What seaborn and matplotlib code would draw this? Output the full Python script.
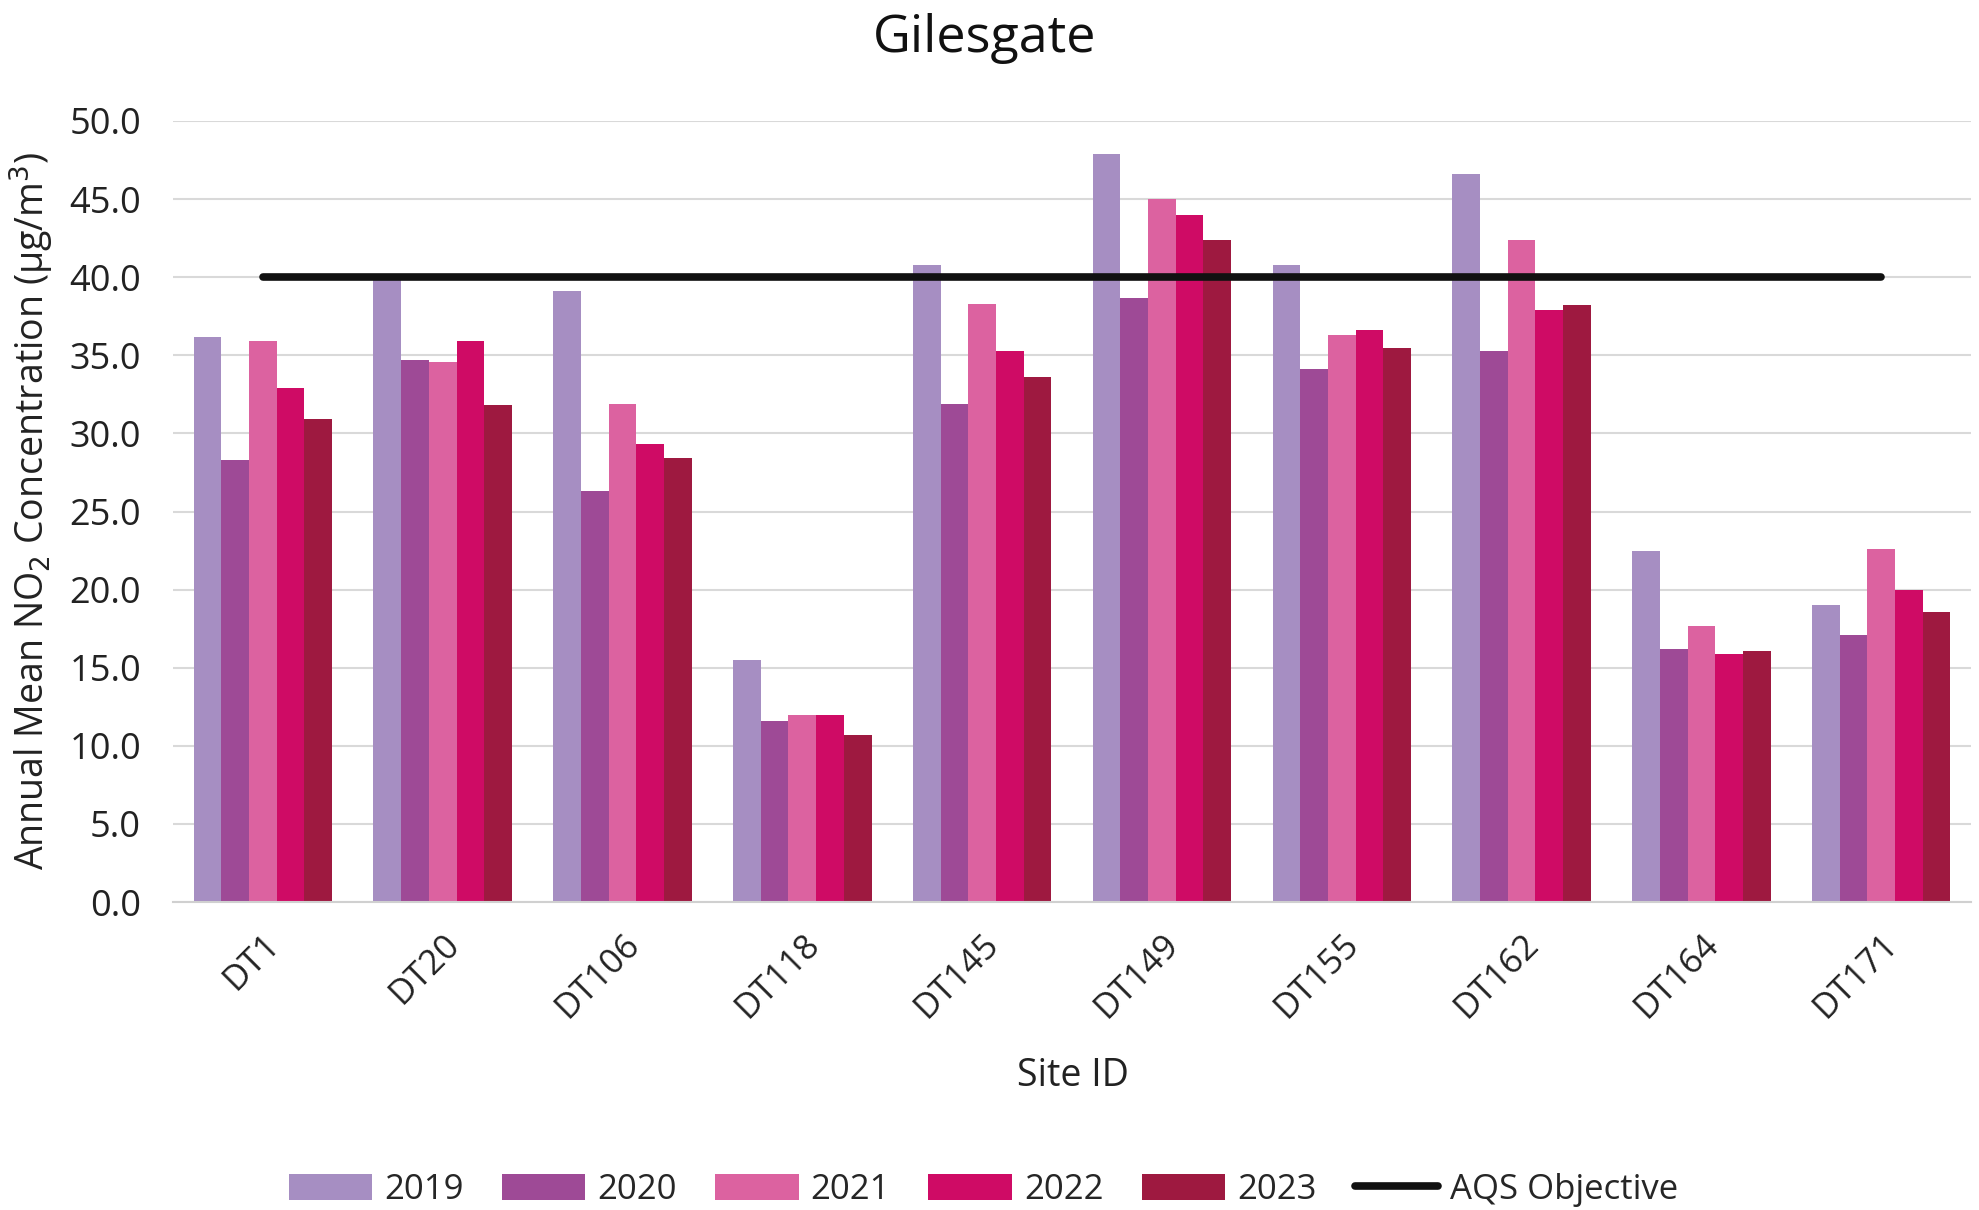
import matplotlib
matplotlib.use("Agg")
import matplotlib.pyplot as plt
import seaborn as sns
import pandas as pd
import numpy as np
from matplotlib.lines import Line2D
from matplotlib.patches import Patch

sites = ["DT1", "DT20", "DT106", "DT118", "DT145", "DT149", "DT155", "DT162", "DT164", "DT171"]
years = ["2019", "2020", "2021", "2022", "2023"]
v2019 = [36.2, 39.9, 39.1, 15.5, 40.8, 47.9, 40.8, 46.6, 22.5, 19.0]
v2020 = [28.3, 34.7, 26.3, 11.6, 31.9, 38.7, 34.1, 35.3, 16.2, 17.1]
v2021 = [35.9, 34.6, 31.9, 12.0, 38.3, 45.0, 36.3, 42.4, 17.7, 22.6]
v2022 = [32.9, 35.9, 29.3, 12.0, 35.3, 44.0, 36.6, 37.9, 15.9, 20.0]
v2023 = [30.9, 31.8, 28.4, 10.7, 33.6, 42.4, 35.5, 38.2, 16.1, 18.6]
aqs = [40.0, 40.0, 40.0, 40.0, 40.0, 40.0, 40.0, 40.0, 40.0, 40.0]
colors = ["#A68EC2", "#9E4A96", "#DC62A0", "#CF0B65", "#9E1940"]

sns.set_theme(style="white")
plt.rcParams["font.family"] = ["Open Sans", "DejaVu Sans"]

rows = []
for y, vals in zip(years, [v2019, v2020, v2021, v2022, v2023]):
    for s, v in zip(sites, vals):
        rows.append({"Site": s, "Year": y, "Value": v})
df = pd.DataFrame(rows)

fig = plt.figure(figsize=(19.79, 12.10), dpi=100)
ax = fig.add_axes([0.0874, 0.2545, 0.9086, 0.6455])

sns.barplot(data=df, x="Site", y="Value", hue="Year", order=sites, hue_order=years,
            palette=colors, width=0.77, saturation=1, ax=ax, legend=False, zorder=2,
            linewidth=0, edgecolor="none")
ax.plot(range(len(sites)), aqs, color="#111111", lw=5.5, solid_capstyle="round", zorder=3)

ax.set_xlim(-0.5, len(sites) - 0.5)
ax.set_ylim(0, 50)
ax.set_yticks(np.arange(0, 50.1, 5))
ax.set_yticklabels([f"{t:.1f}" for t in np.arange(0, 50.1, 5)], fontsize=26, color="#222222")
ax.yaxis.grid(True, color="#D9D9D9", lw=1.5, zorder=0)
ax.set_axisbelow(True)
for s in ["left", "right", "top"]:
    ax.spines[s].set_visible(False)
ax.spines["bottom"].set_color("#D0D0D0")
ax.spines["bottom"].set_linewidth(1.5)
ax.tick_params(axis="y", length=0, pad=23)
ax.set_xticks(range(len(sites)))
ax.set_xticklabels(sites, rotation=45, ha="right", rotation_mode="anchor", fontsize=25, color="#222222")
ax.tick_params(axis="x", which="major", length=0, pad=18)
ax.set_xticks(np.arange(-0.5, len(sites)), minor=True)
ax.tick_params(axis="x", which="minor", length=9, width=1.5, color="#D0D0D0", direction="out")

ax.set_xlabel("")
ax.set_ylabel("")
fig.text(0.542, 0.111, "Site ID", fontsize=27, color="#222222", ha="center", va="center")
fig.text(0.016, 0.578, "Annual Mean NO$_2$ Concentration (µg/m$^3$)", fontsize=27, color="#222222",
         ha="center", va="center", rotation=90)
fig.text(0.4975, 0.968, "Gilesgate", fontsize=37.5, color="#111111", ha="center", va="center")

handles = [Patch(facecolor=c, edgecolor="none") for c in colors]
handles.append(Line2D([0], [0], color="#111111", lw=5.5, solid_capstyle="round"))
labels = years + ["AQS Objective"]
fig.legend(handles, labels, loc="center", bbox_to_anchor=(0.497, 0.0165), ncol=6, frameon=False,
           fontsize=25, handlelength=2.4, handleheight=0.8, columnspacing=1.1, handletextpad=0.35)

fig.savefig("out.png", dpi=100)
